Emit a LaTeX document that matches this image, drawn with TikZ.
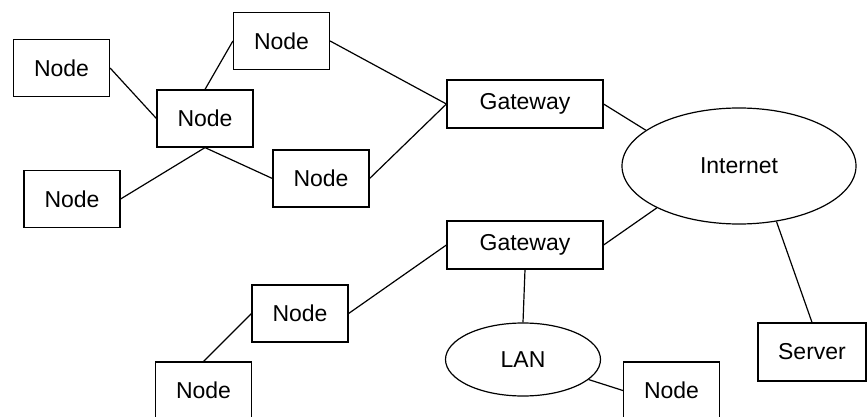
\documentclass[tikz,border=0pt]{standalone}
\usepackage{fontspec}
\setmainfont{Liberation Sans}
\usetikzlibrary{shapes.geometric}

\begin{document}
\begin{tikzpicture}[x=1pt, y=-1pt, line width=1.2pt,
  font=\fontsize{23}{27}\selectfont,
  host/.style={draw, rectangle, inner sep=0pt, minimum width=96pt, minimum height=57pt},
  gate/.style={draw, rectangle, inner sep=0pt, minimum width=156pt, minimum height=48pt},
  cloud/.style={draw, ellipse, inner sep=0pt}]
\useasboundingbox (0,0) rectangle (867,417);
\clip (0,0) rectangle (867,417);
\node [host] (n1) at (61.5,68) {Node};
\node [host] (n2) at (281.5,41) {Node};
\node [host] (n3) at (205,118.5) {Node};
\node [host] (n4) at (72,199) {Node};
\node [host] (n5) at (321,178.5) {Node};
\node [gate] (gw1) at (525,104) {Gateway};
\node [gate] (gw2) at (525,245) {Gateway};
\node [cloud, minimum width=234pt, minimum height=116pt] (inet) at (739,166) {Internet};
\node [cloud, minimum width=155pt, minimum height=73pt] (lan) at (523,359.5) {LAN};
\node [host] (n6) at (300,313.5) {Node};
\node [host] (n7) at (203.5,390.5) {Node};
\node [host] (n8) at (671.5,390.5) {Node};
\node [host, minimum width=108pt, minimum height=58pt] (srv) at (812,352) {Server};
\draw (n1.east) -- (n3.west);
\draw (n3.north) -- (n2.west);
\draw (n3.south) -- (n4.east);
\draw (n3.south) -- (n5.west);
\draw (n2.east) -- (gw1.west);
\draw (n5.east) -- (gw1.west);
\draw (gw1.east) -- (inet.159);
\draw (gw2.east) -- (inet.207);
\draw (inet.304) -- (srv.north);
\draw (gw2.south) -- (lan.north);
\draw (gw2.west) -- (n6.east);
\draw (n6.west) -- (n7.north);
\draw (lan.-17) -- (n8.west);
\end{tikzpicture}
\end{document}
